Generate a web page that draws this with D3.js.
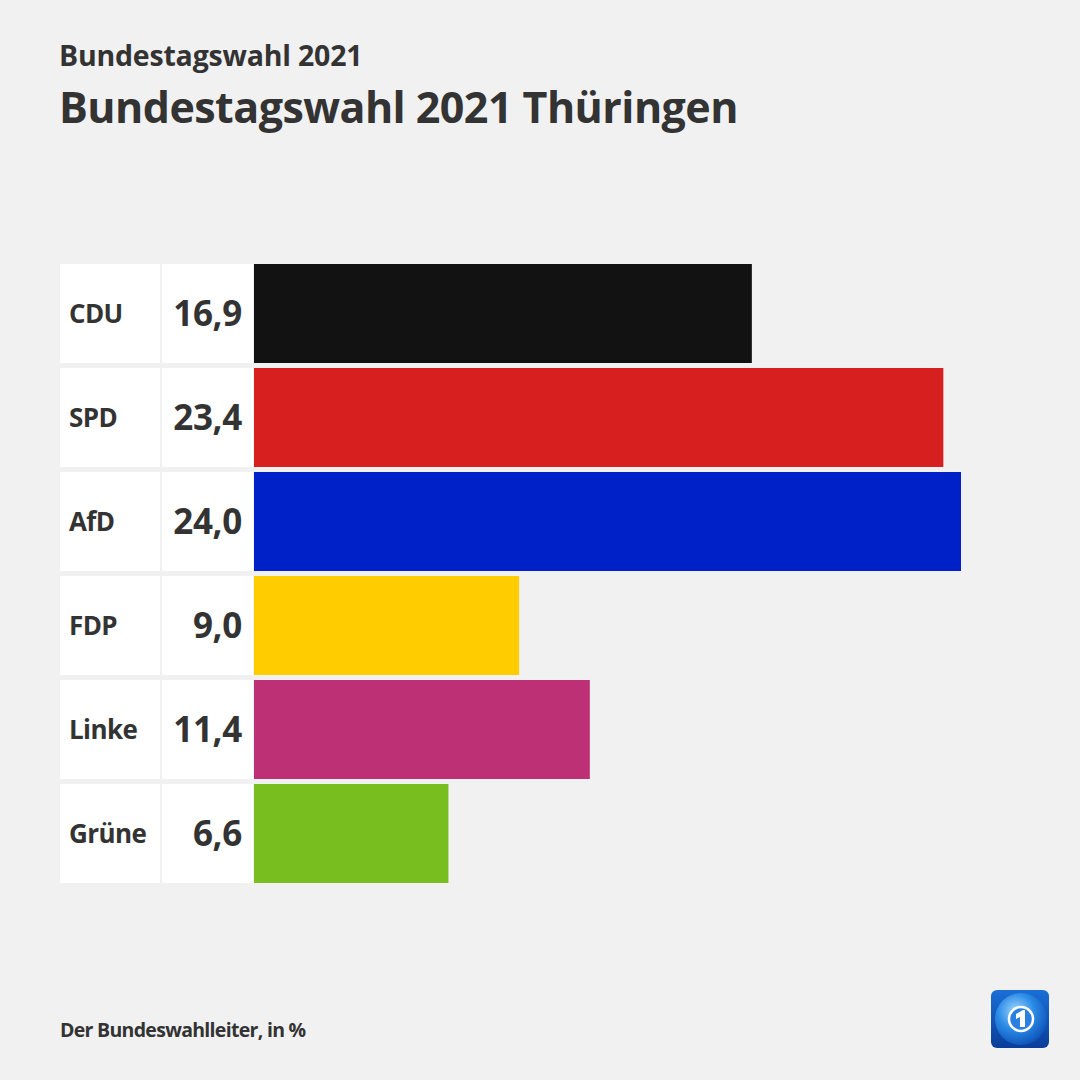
<!DOCTYPE html>
<html><head><meta charset="utf-8">
<script src="https://cdn.jsdelivr.net/npm/d3@7/dist/d3.min.js"></script>
<style>html,body{margin:0;padding:0;background:#f1f1f1;}svg{display:block;}</style>
</head><body>
<script>
const parties = ["CDU","SPD","AfD","FDP","Linke","Grüne"];
const values = [16.9,23.4,24.0,9.0,11.4,6.6];
const valueLabels = ["16,9","23,4","24,0","9,0","11,4","6,6"];
const colors = ["#121212","#d71f1f","#0021c8","#ffcc00","#be3075","#78be1e"];

const W=1080,H=1080;
const svg=d3.select("body").append("svg").attr("width",W).attr("height",H);
svg.append("rect").attr("width",W).attr("height",H).attr("fill","#f1f1f1");
const font="'Open Sans', 'Noto Sans', sans-serif";
const ink="#333333";

svg.append("text").attr("x",59).attr("y",66).attr("font-family",font).attr("font-weight",700)
  .attr("font-size",28.5).attr("fill",ink).attr("letter-spacing",-0.2).text("Bundestagswahl 2021");
svg.append("text").attr("x",59).attr("y",123).attr("font-family",font).attr("font-weight",700)
  .attr("font-size",43).attr("fill",ink).attr("letter-spacing",-0.55).text("Bundestagswahl 2021 Thüringen");

const x=d3.scaleLinear().domain([0,24]).range([254,961]);
const y=d3.scaleBand().domain(parties).range([264,264+104*6-5]).paddingInner(5/104).paddingOuter(0).align(0);
const rows=svg.append("g").selectAll("g").data(parties).join("g");
rows.append("rect").attr("x",60).attr("width",100).attr("y",d=>y(d)).attr("height",y.bandwidth()).attr("fill","#ffffff");
rows.append("rect").attr("x",162).attr("width",91).attr("y",d=>y(d)).attr("height",y.bandwidth()).attr("fill","#ffffff");
rows.append("rect").attr("x",x(0)).attr("y",d=>y(d)).attr("height",y.bandwidth())
  .attr("width",(d,i)=>x(values[i])-x(0)).attr("fill",(d,i)=>colors[i]);
rows.append("text").attr("x",69).attr("y",d=>y(d)+y.bandwidth()/2).attr("dy","0.36em")
  .attr("font-family",font).attr("font-weight",700).attr("font-size",26).attr("fill",ink)
  .attr("letter-spacing",-0.6).text(d=>d);
rows.append("text").attr("x",242).attr("y",d=>y(d)+y.bandwidth()/2).attr("dy","0.36em")
  .attr("text-anchor","end").attr("font-family",font).attr("font-weight",700).attr("font-size",35).attr("fill",ink)
  .attr("letter-spacing",-0.3).text((d,i)=>valueLabels[i]);

svg.append("text").attr("x",60).attr("y",1037).attr("font-family",font).attr("font-weight",700)
  .attr("font-size",19.5).attr("fill",ink).attr("letter-spacing",-0.7).text("Der Bundeswahlleiter, in %");

// logo
const defs=svg.append("defs");
const lg=defs.append("linearGradient").attr("id","lg").attr("x1",0).attr("y1",0).attr("x2",0).attr("y2",1);
lg.append("stop").attr("offset",0).attr("stop-color","#1a6fd6");
lg.append("stop").attr("offset",1).attr("stop-color","#0a3d9a");
const rg=defs.append("radialGradient").attr("id","rg").attr("cx",0.4).attr("cy",0.35).attr("r",0.7);
rg.append("stop").attr("offset",0).attr("stop-color","#9fd8ff");
rg.append("stop").attr("offset",0.5).attr("stop-color","#2b8be6");
rg.append("stop").attr("offset",1).attr("stop-color","#0b4fb5");
const logo=svg.append("g").attr("transform","translate(991,990)");
logo.append("rect").attr("width",58).attr("height",58).attr("rx",6).attr("fill","url(#lg)");
logo.append("clipPath").attr("id","lc").append("rect").attr("width",58).attr("height",58).attr("rx",6);
logo.append("circle").attr("cx",30).attr("cy",29).attr("r",26).attr("fill","url(#rg)").attr("clip-path","url(#lc)");
logo.append("circle").attr("cx",30).attr("cy",29).attr("r",12).attr("fill","#2a7fe0").attr("stroke","#ffffff").attr("stroke-width",2.5);
logo.append("path").attr("d","M25,24 L32,20 L34,20 L34,37 L29,37 L29,27 L25,29 Z").attr("fill","#ffffff");
</script>
</body></html>
